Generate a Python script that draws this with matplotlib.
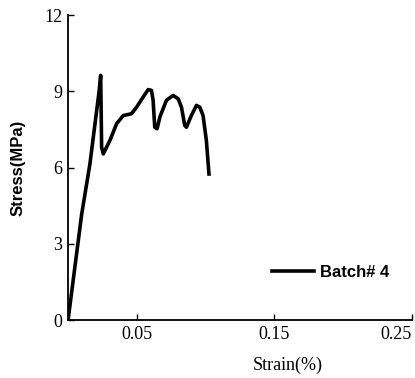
import matplotlib.pyplot as plt

# ---- datos ----
strain = [0.0, 0.0027, 0.0099, 0.0159, 0.0208, 0.0225, 0.0237, 0.0244, 0.0256,
          0.0304, 0.0353, 0.0401, 0.0461, 0.0498, 0.0546, 0.0582, 0.0606, 0.0618,
          0.0630, 0.0647, 0.0667, 0.0715, 0.0763, 0.0800, 0.0824, 0.0848, 0.0860,
          0.0896, 0.0933, 0.0957, 0.0981, 0.1005, 0.1024]
stress = [0.0, 1.14, 4.17, 6.15, 8.25, 8.97, 9.63, 6.80, 6.54,
          7.07, 7.73, 8.05, 8.12, 8.38, 8.78, 9.07, 9.04, 8.65,
          7.59, 7.53, 7.99, 8.65, 8.84, 8.71, 8.38, 7.66, 7.59,
          8.05, 8.45, 8.38, 8.05, 7.07, 5.75]
xticks = [0.05, 0.15, 0.25]
xtick_labels = ["0.05", "0.15", "0.25"]
yticks = [0, 3, 6, 9, 12]
ytick_labels = ["0", "3", "6", "9", "12"]

SERIF = "Liberation Serif"
SANS = "Liberation Sans"

fig = plt.figure(figsize=(4.15, 3.78), dpi=100)
ax = fig.add_axes([0.164, 0.153, 0.829, 0.807])

ax.plot(strain, stress, color="black", lw=2.6, solid_joinstyle="round", label="Batch# 4")

ax.set_xlim(0, 0.25)
ax.set_ylim(0, 12)
for s in ("top", "right"):
    ax.spines[s].set_visible(False)
for s in ("left", "bottom"):
    ax.spines[s].set_linewidth(1.3)

ax.set_xticks(xticks)
ax.set_xticklabels(xtick_labels, family=SERIF, fontsize=13)
# la última etiqueta queda pegada al borde: alinear a la derecha
ax.get_xticklabels()[-1].set_horizontalalignment("right")
ax.set_yticks(yticks)
ax.set_yticklabels(ytick_labels, family=SERIF, fontsize=13)
ax.tick_params(direction="in", length=4, width=1.0, pad=4)

ax.set_xlabel("Strain(%)", family=SERIF, fontsize=13)
ax.xaxis.set_label_coords(0.64, -0.12)
ax.set_ylabel("Stress(MPa)", family=SANS, fontsize=12, fontweight="bold")
ax.yaxis.set_label_coords(-0.123, 0.5)

ax.legend(loc="center left", bbox_to_anchor=(0.593, 0.157), frameon=False,
          borderpad=0, borderaxespad=0, handlelength=2.5, handletextpad=0.4,
          prop={"family": SANS, "size": 12, "weight": "bold"})

fig.savefig("out.png", dpi=100)
